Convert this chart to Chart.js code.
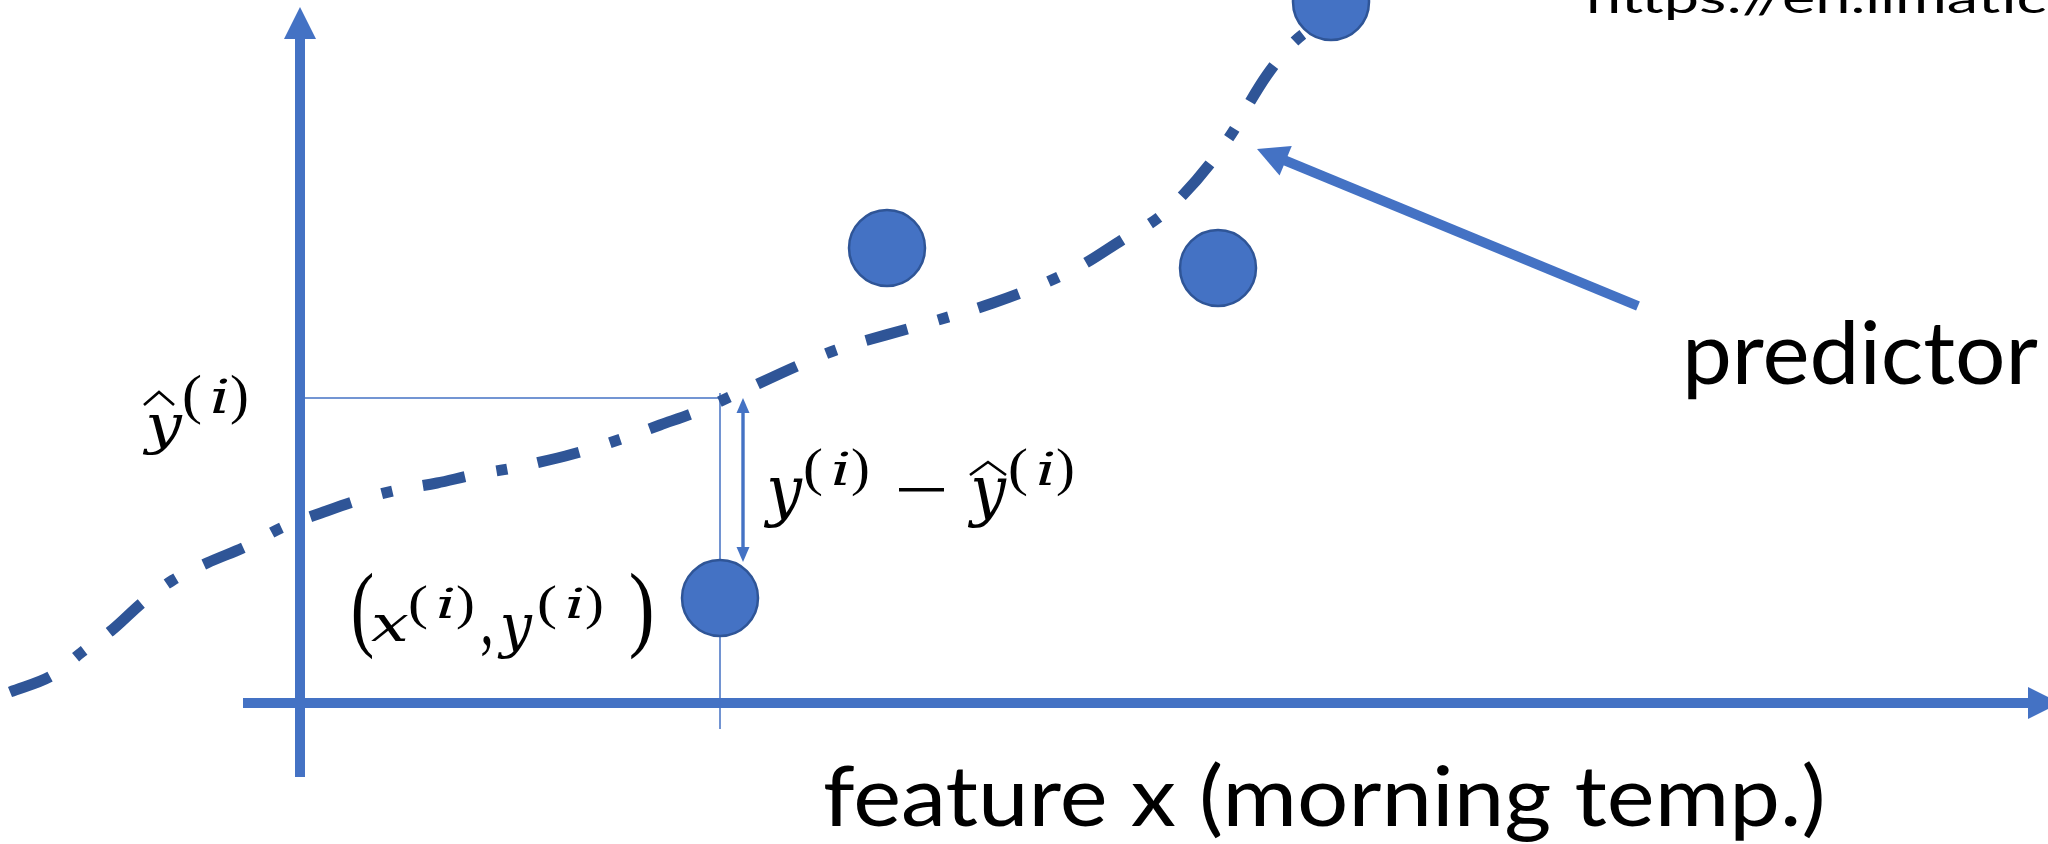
<!DOCTYPE html>
<html>
<head>
<meta charset="utf-8">
<script src="https://cdn.jsdelivr.net/npm/chart.js@4/dist/chart.umd.min.js"></script>
<style>
  html, body { margin: 0; padding: 0; background: #ffffff; }
  #wrap { position: relative; width: 2048px; height: 844px; }
</style>
</head>
<body>
<div id="wrap"><canvas id="regressionChart"></canvas></div>
<script>
// predictor curve (feature x -> predicted y)
const curveX = [-2.90, -2.47, -2.18, -1.88, -1.57, -1.27, -0.93, -0.53, -0.17, 0.21, 0.59, 0.97,
                1.37, 1.73, 2.13, 2.49, 2.87, 3.27, 3.60, 3.96, 4.34, 4.97, 5.36, 6.14, 6.93,
                7.45, 7.84, 8.22, 8.58, 8.83, 9.09, 9.34, 9.47, 9.67, 9.94, 10.23];
const curveY = [0.11, 0.28, 0.51, 0.73, 1.01, 1.23, 1.40, 1.57, 1.76, 1.90, 2.03, 2.13,
                2.20, 2.28, 2.35, 2.43, 2.53, 2.66, 2.78, 2.91, 3.08, 3.37, 3.53, 3.76, 4.00,
                4.20, 4.39, 4.63, 4.85, 5.08, 5.38, 5.73, 5.96, 6.28, 6.61, 6.83];

// observed samples (x(i), y(i))
const sampleX = [4.20, 5.87, 9.18, 10.31];
const sampleY = [1.05, 4.55, 4.35, 7.01];

// prediction for the first sample, and where the residual arrow stops
const yHat = 3.05;
const residualEnd = 1.41;

// guide lines
const guideHX = [0.04, 4.29];
const guideVY = [3.10, -0.26];

// axes and the "predictor" pointer
const xAxisRange = [-0.57, 17.60];
const yAxisRange = [-0.74, 6.96];
const pointerFrom = [13.38, 3.97];
const pointerTo = [9.57, 5.54];

const BLUE = '#4472C4';
const DARK = '#2F5597';

function arrow(ctx, x1, y1, x2, y2, o) {
    const ang = Math.atan2(y2 - y1, x2 - x1);
    const len = Math.hypot(x2 - x1, y2 - y1);
    ctx.save();
    ctx.translate(x1, y1);
    ctx.rotate(ang);
    ctx.fillStyle = o.color;
    const start = o.both ? o.head - 1 : 0;
    ctx.fillRect(start, -o.width / 2, len - o.head + 1 - start, o.width);
    ctx.beginPath();
    ctx.moveTo(len, 0);
    ctx.lineTo(len - o.head, -o.half);
    ctx.lineTo(len - o.head, o.half);
    ctx.closePath();
    ctx.fill();
    if (o.both) {
        ctx.beginPath();
        ctx.moveTo(0, 0);
        ctx.lineTo(o.head, -o.half);
        ctx.lineTo(o.head, o.half);
        ctx.closePath();
        ctx.fill();
    }
    ctx.restore();
}

// draw text so its ink fills the box [left, top, right, bottom]
function put(ctx, text, font, box) {
    ctx.save();
    ctx.font = font;
    ctx.textAlign = 'left';
    ctx.textBaseline = 'alphabetic';
    const m = ctx.measureText(text);
    const l = -m.actualBoundingBoxLeft, r = m.actualBoundingBoxRight;
    const t = -m.actualBoundingBoxAscent, b = m.actualBoundingBoxDescent;
    ctx.translate(box[0], box[1]);
    ctx.scale((box[2] - box[0]) / (r - l), (box[3] - box[1]) / (b - t));
    ctx.fillStyle = '#000000';
    ctx.fillText(text, -l, -t);
    ctx.restore();
}

// fit text horizontally only, on a given baseline
function putWidth(ctx, text, font, x0, x1, baseline) {
    ctx.save();
    ctx.font = font;
    const m = ctx.measureText(text);
    const l = -m.actualBoundingBoxLeft, r = m.actualBoundingBoxRight;
    ctx.translate(x0, baseline);
    ctx.scale((x1 - x0) / (r - l), 1);
    ctx.fillStyle = '#000000';
    ctx.fillText(text, -l, 0);
    ctx.restore();
}

function hat(ctx, x0, x1, top, bottom) {
    ctx.save();
    ctx.strokeStyle = '#000000';
    ctx.lineWidth = 2.6;
    ctx.lineJoin = 'miter';
    ctx.beginPath();
    ctx.moveTo(x0, bottom);
    ctx.lineTo((x0 + x1) / 2, top);
    ctx.lineTo(x1, bottom);
    ctx.stroke();
    ctx.restore();
}

const ITAL = 'italic 60px "DejaVu Serif"';
const UPR = '60px "Liberation Serif"';
const SANS = '88px Lato';

// superscript "(i)" next to a letter
function supI(ctx, x, top, h) {
    put(ctx, '(', UPR, [x, top, x + 17, top + h]);
    put(ctx, 'i', ITAL, [x + 29, top + 4, x + 44, top + h * 0.76]);
    put(ctx, ')', UPR, [x + 47, top, x + 63, top + h]);
}

const diagram = {
    id: 'diagram',
    beforeDatasetsDraw(chart) {
        const { ctx, scales: { x, y } } = chart;
        const ax = { color: BLUE, width: 10, head: 32, half: 16 };
        arrow(ctx, x.getPixelForValue(0), y.getPixelForValue(yAxisRange[0]),
              x.getPixelForValue(0), y.getPixelForValue(yAxisRange[1]), ax);
        arrow(ctx, x.getPixelForValue(xAxisRange[0]), y.getPixelForValue(0),
              x.getPixelForValue(xAxisRange[1]), y.getPixelForValue(0), ax);
    },
    afterDatasetsDraw(chart) {
        const { ctx, scales: { x, y } } = chart;
        arrow(ctx, x.getPixelForValue(pointerFrom[0]), y.getPixelForValue(pointerFrom[1]),
              x.getPixelForValue(pointerTo[0]), y.getPixelForValue(pointerTo[1]),
              { color: BLUE, width: 10, head: 31, half: 16 });
        const rx = x.getPixelForValue(sampleX[0] + 0.23);
        arrow(ctx, rx, y.getPixelForValue(yHat), rx, y.getPixelForValue(residualEnd),
              { color: BLUE, width: 3.4, head: 15, half: 6.5, both: true });
    },
    afterDraw(chart) {
        const ctx = chart.ctx;
        putWidth(ctx, 'https://en.llmatic', '42px Lato', 1589, 2045, 13);
        put(ctx, 'predictor', SANS, [1688, 320, 2038, 400]);
        put(ctx, 'feature x (morning temp.)', SANS, [825, 762, 1822, 842]);

        // ŷ(i)
        put(ctx, 'y', ITAL, [142, 415, 183, 455]);
        hat(ctx, 144, 174, 392, 405);
        supI(ctx, 184, 375, 50);

        // y(i) − ŷ(i)
        put(ctx, 'y', ITAL, [763, 477, 803, 527]);
        supI(ctx, 805, 448, 49);
        ctx.fillStyle = '#000000';
        ctx.fillRect(899, 488, 45, 3.5);
        put(ctx, 'y', ITAL, [967, 477, 1007, 527]);
        hat(ctx, 970, 1006, 462, 475);
        supI(ctx, 1010, 448, 49);

        // (x(i), y(i))
        put(ctx, '(', UPR, [353, 573, 373, 660]);
        put(ctx, 'x', ITAL, [371, 614, 408, 641]);
        supI(ctx, 410, 585, 44);
        put(ctx, ',', UPR, [482, 636, 491, 657]);
        put(ctx, 'y', ITAL, [497, 614, 533, 659]);
        supI(ctx, 539, 585, 44);
        put(ctx, ')', UPR, [630, 573, 652, 660]);
    }
};

const ctx = document.getElementById('regressionChart').getContext('2d');
new Chart(ctx, {
    data: {
        datasets: [
            {
                type: 'line',
                data: curveX.map((v, i) => ({ x: v, y: curveY[i] })),
                borderColor: DARK,
                borderWidth: 11,
                borderDash: [43, 32, 11, 31],
                borderCapStyle: 'butt',
                cubicInterpolationMode: 'monotone',
                pointRadius: 0,
                fill: false,
                clip: false,
                order: 0
            },
            {
                type: 'scatter',
                data: sampleX.map((v, i) => ({ x: v, y: sampleY[i] })),
                pointRadius: 38,
                pointBackgroundColor: BLUE,
                pointBorderColor: DARK,
                pointBorderWidth: 2.5,
                clip: false,
                order: 1
            },
            {
                type: 'line',
                data: guideHX.map(v => ({ x: v, y: yHat })),
                borderColor: BLUE,
                borderWidth: 1.5,
                pointRadius: 0,
                order: 2
            },
            {
                type: 'line',
                data: guideVY.map(v => ({ x: sampleX[0], y: v })),
                borderColor: BLUE,
                borderWidth: 1.5,
                pointRadius: 0,
                order: 2
            }
        ]
    },
    options: {
        responsive: true,
        maintainAspectRatio: false,
        animation: false,
        events: [],
        layout: { autoPadding: false, padding: 0 },
        plugins: { legend: { display: false }, tooltip: { enabled: false } },
        scales: {
            x: { type: 'linear', min: -3.0, max: 17.48, display: false },
            y: { type: 'linear', min: -1.41, max: 7.03, display: false }
        }
    },
    plugins: [diagram]
});
</script>
</body>
</html>
